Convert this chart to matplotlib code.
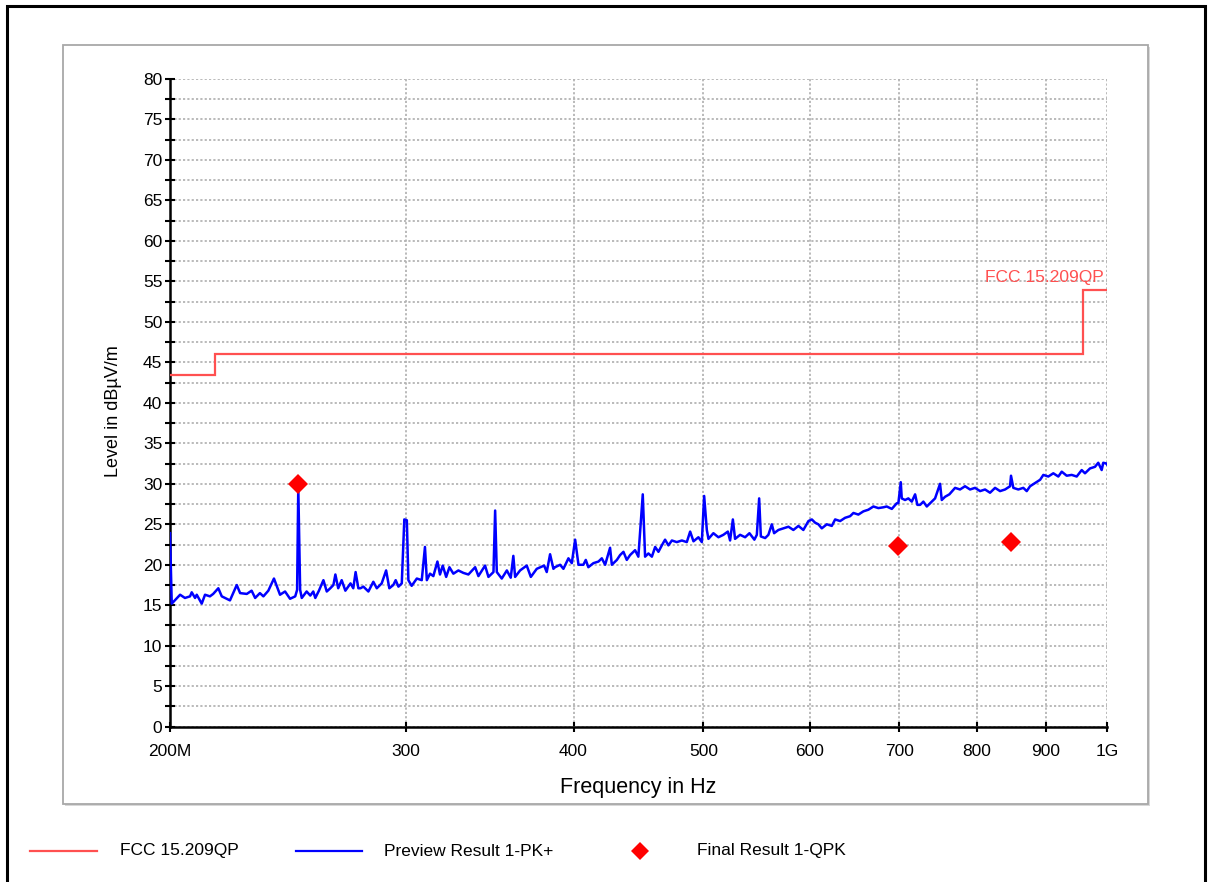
import matplotlib.pyplot as plt
from matplotlib.patches import Rectangle
from matplotlib.lines import Line2D
from matplotlib.ticker import FixedLocator, MultipleLocator, NullLocator

plt.rcParams['font.family'] = ['Liberation Sans', 'DejaVu Sans']

# limite FCC 15.209 QP: bordi dei gradini (MHz) e livelli (dBuV/m)
limit_edges = [200, 216, 960, 1000]
limit_levels = [43.5, 46.0, 54.0]

# preview PK+ (MHz, dBuV/m)
pk_freq = [200.0, 200.6, 203.5, 205.2, 207.0, 207.6, 208.8, 209.4, 211.2, 212.4,
           214.2, 215.4, 217.3, 218.6, 221.7, 224.3, 225.6, 228.2, 230.1, 231.5,
           233.4, 234.8, 236.8, 239.1, 241.6, 243.7, 245.8, 248.0, 248.8, 249.3,
           250.1, 250.8, 252.9, 254.5, 255.8, 256.7, 258.3, 260.3, 261.8, 263.4,
           264.8, 265.7, 267.0, 268.6, 270.3, 272.7, 274.0, 275.1, 276.4,
           277.4, 278.8, 281.2, 283.6, 285.3, 287.7, 289.9, 291.5, 293.5, 294.7,
           296.1, 297.8, 299.1, 300.4, 301.2, 302.9, 305.6, 308.2, 309.9, 310.9,
           312.6, 314.4, 316.6, 318.0, 319.5, 321.4, 323.2, 325.4, 328.2, 331.0,
           333.9, 337.8, 339.7, 343.6, 345.6, 348.6, 349.6, 350.6, 353.6, 356.7,
           359.1, 360.7, 361.8, 364.9, 369.1, 371.7, 375.5, 380.3, 382.0, 384.2,
           386.4,
           387.5, 390.9, 393.1, 396.5, 398.8, 401.1, 403.4, 406.8, 408.5, 410.3,
           413.9, 417.5, 419.9, 422.3, 425.9, 427.2, 430.9, 433.3, 435.8, 438.3,
           440.8, 444.6, 447.1, 450.5, 452.3, 454.9, 457.6, 460.2, 462.8, 465.5,
           468.1, 470.8, 473.6, 477.6, 481.8, 485.9, 488.7, 491.5, 495.7, 498.6,
           500.6, 502.9, 504.3, 508.6, 513.0, 517.4, 521.4, 523.4, 525.9, 527.9,
           532.5, 537.1, 541.1, 545.7,
           548.0, 550.2, 551.8, 555.9, 559.0, 562.3, 564.5, 568.7, 573.6, 578.6,
           583.5, 588.6, 593.6, 598.8, 602.3, 605.7, 609.1, 612.7, 618.0, 623.3,
           626.9, 632.3, 637.7, 643.2, 646.9, 652.4, 658.1, 663.7, 669.5, 675.2,
           681.1, 685.0, 691.0, 696.9, 698.8, 701.7, 702.9, 706.9, 710.9, 715.1,
           719.2, 722.0, 725.4, 729.5, 733.8, 740.1, 744.3, 750.7, 752.9, 757.2,
           762.8,
           770.3, 776.9, 783.6, 790.4, 797.2, 804.1, 811.0, 818.0, 825.1, 832.2,
           839.4, 846.6, 848.0, 851.4, 858.7, 866.1, 871.2, 876.2, 883.7, 891.5,
           896.4, 904.1, 911.9, 919.8, 925.2, 933.1, 941.2, 949.3, 957.5, 962.9,
           971.2, 979.6, 985.1, 990.9, 993.6, 999.4, 1000.0]
pk_level = [23.9, 15.2, 16.3, 15.9, 16.1, 16.6, 15.9, 16.3, 15.2, 16.3,
            16.1, 16.4, 17.1, 16.1, 15.6, 17.5, 16.5, 16.4, 16.8, 15.9,
            16.5, 16.1, 16.8, 18.3, 16.3, 16.7, 15.8, 16.1, 16.9, 29.6,
            16.9, 15.9, 16.7, 16.2, 16.7, 15.9, 16.8, 18.1, 16.7, 17.1,
            17.5, 18.8, 17.1, 18.1, 16.8, 17.7, 17.1, 19.1, 17.1,
            17.1, 17.3, 16.7, 17.9, 17.1, 17.7, 19.3, 17.1, 17.5, 18.1,
            17.3, 17.7, 25.6, 25.5, 18.1, 17.4, 18.3, 18.1, 22.2, 18.1,
            18.9, 18.6, 20.4, 18.8, 19.9, 18.5, 19.7, 18.9, 19.3, 19.0,
            18.8, 19.7, 18.6, 19.9, 18.5, 19.1, 26.7, 19.1, 18.3, 19.3,
            18.4, 21.1, 18.5, 19.3, 19.9, 18.5, 19.5, 19.9, 19.1, 21.3,
            19.5,
            19.7, 20.0, 19.5, 20.8, 20.2, 23.1, 20.0, 20.0, 20.6, 19.7,
            20.2, 20.4, 20.8, 20.0, 22.1, 20.0, 20.6, 21.2, 21.6, 20.6,
            21.2, 21.8, 21.0, 28.7, 21.0, 21.4, 21.0, 22.2, 21.6, 22.4,
            23.1, 22.4, 23.0, 22.8, 23.0, 22.8, 24.1, 22.9, 23.4, 22.8,
            28.5, 24.3, 23.2, 23.9, 23.4, 23.7, 24.1, 23.0, 25.6, 23.2,
            23.7, 23.4, 23.9, 23.1,
            23.7, 28.2, 23.5, 23.3, 23.7, 25.0, 23.9, 24.3, 24.5, 24.7,
            24.3, 24.8, 24.3, 25.4, 25.6, 25.2, 25.0, 24.5, 25.0, 24.8,
            25.6, 25.4, 25.8, 26.0, 26.4, 26.2, 26.6, 26.8, 27.2, 27.0,
            27.1, 27.2, 26.9, 27.6, 27.6, 30.2, 28.2, 28.0, 28.2, 27.8,
            28.7, 27.4, 27.4, 27.8, 27.2, 27.8, 28.2, 30.0, 28.0, 28.4,
            28.7,
            29.5, 29.3, 29.7, 29.3, 29.5, 29.1, 29.3, 28.9, 29.5, 29.1,
            29.3, 29.7, 31.0, 29.5, 29.3, 29.5, 29.1, 29.7, 30.1, 30.5,
            31.1, 30.9, 31.3, 30.9, 31.5, 31.0, 31.1, 30.9, 31.7, 31.3,
            31.9, 32.1, 32.6, 31.7, 32.6, 32.5, 32.4]

# final result QPK
qpk_freq = [249.3, 698.8, 848.0]
qpk_level = [30.0, 22.3, 22.8]

xticks = [200, 300, 400, 500, 600, 700, 800, 900, 1000]
xtick_labels = ['200M', '300', '400', '500', '600', '700', '800', '900', '1G']

W, H = 1213, 882
lim_col = '#ff5050'
pk_col = '#0000ff'
qp_col = '#ff0000'

fig = plt.figure(figsize=(W / 100, H / 100), dpi=100)

# cornice esterna e pannello grigio
fig.patches.append(Rectangle((7 / W, -0.02), 1198 / W, 1 - 6 / H + 0.02, transform=fig.transFigure,
                             fill=False, edgecolor='black', linewidth=2.2, zorder=-10))
fig.patches.append(Rectangle((65 / W, 1 - 806 / H), 1085 / W, 759 / H, transform=fig.transFigure,
                             facecolor='#d8d8d8', edgecolor='none', zorder=-9))
fig.patches.append(Rectangle((63 / W, 1 - 804 / H), 1085 / W, 759 / H, transform=fig.transFigure,
                             facecolor='white', edgecolor='#a8a8a8', linewidth=1.3, zorder=-8))

ax = fig.add_axes([170 / W, 1 - 726.7 / H, 937 / W, 647.7 / H])
ax.set_facecolor('none')

ax.stairs(limit_levels, limit_edges, baseline=None, color=lim_col, linewidth=1.6, zorder=3)
ax.plot(pk_freq, pk_level, color=pk_col, linewidth=1.8, zorder=4)
ax.plot(qpk_freq, qpk_level, linestyle='none', marker='D', markersize=10.5,
        color=qp_col, markeredgewidth=0, zorder=5)

ax.annotate('FCC 15.209QP', xy=(1000, 54), xytext=(-2, 3), textcoords='offset points',
            ha='right', va='bottom', color=lim_col, fontsize=12.5)

ax.set_xscale('log')
ax.set_xlim(200, 1000)
ax.set_ylim(0, 80)
ax.xaxis.set_major_locator(FixedLocator(xticks))
ax.xaxis.set_minor_locator(NullLocator())
ax.set_xticklabels(xtick_labels)
ax.yaxis.set_major_locator(MultipleLocator(5))
ax.yaxis.set_minor_locator(MultipleLocator(2.5))

ax.tick_params(which='both', direction='inout', length=7, width=1.5, color='black',
               labelsize=12.5)
ax.tick_params(axis='x', pad=9)
ax.tick_params(axis='y', pad=2)

grid_style = dict(color='#b4b4b4', linestyle=(0, (1.2, 1.2)), linewidth=1.3)
ax.grid(True, axis='y', which='both', **grid_style)
ax.grid(True, axis='x', which='major', **grid_style)
ax.set_axisbelow(True)

for s in ['top', 'right']:
    ax.spines[s].set_visible(False)
for s in ['left', 'bottom']:
    ax.spines[s].set_linewidth(1.8)

fig.text(113 / W, 1 - 411 / H, 'Level in dBµV/m', rotation=90, ha='center', va='center', fontsize=13)
fig.text(638 / W, 1 - 787 / H, 'Frequency in Hz', ha='center', va='center', fontsize=15.5)

# legenda in basso
ly = 1 - 851 / H
fig.lines.append(Line2D([30 / W, 97 / W], [ly, ly], transform=fig.transFigure, color=lim_col, linewidth=1.6))
fig.text(120 / W, ly, 'FCC 15.209QP', ha='left', va='center', fontsize=12.5)
fig.lines.append(Line2D([296 / W, 362 / W], [ly, ly], transform=fig.transFigure, color=pk_col, linewidth=1.6))
fig.text(384 / W, ly, 'Preview Result 1-PK+', ha='left', va='center', fontsize=12.5)
fig.lines.append(Line2D([640 / W], [ly], transform=fig.transFigure, marker='D', markersize=9,
                        color=qp_col, markeredgewidth=0, linestyle='none'))
fig.text(697 / W, ly, 'Final Result 1-QPK', ha='left', va='center', fontsize=12.5)

fig.savefig('out.png', dpi=100)
